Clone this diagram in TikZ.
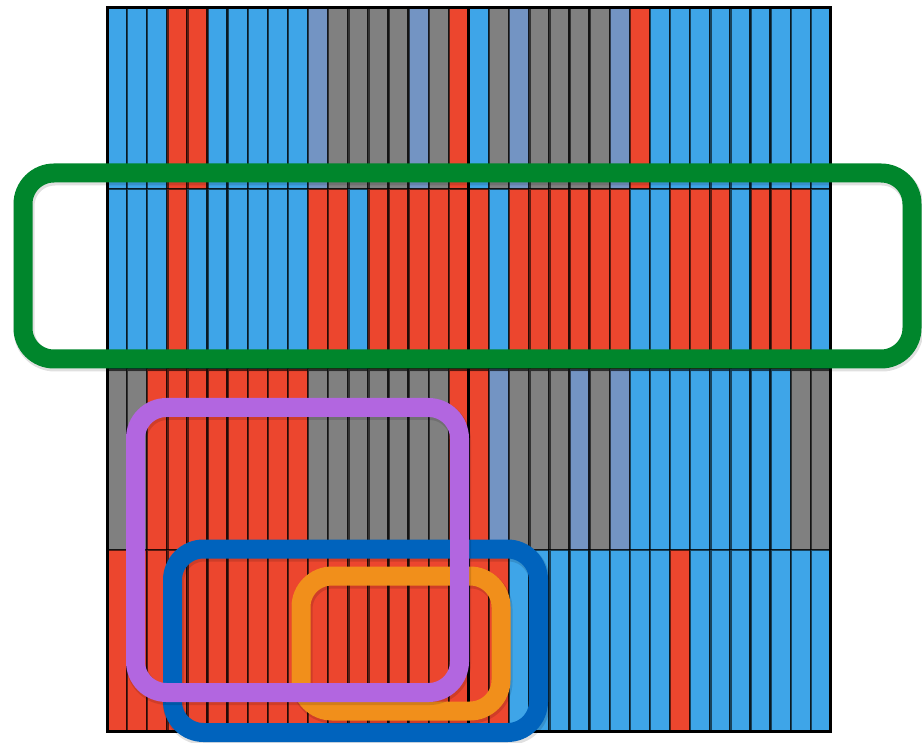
\documentclass[tikz,border=0pt]{standalone}
\definecolor{colB}{RGB}{62,165,232}
\definecolor{colR}{RGB}{236,70,46}
\definecolor{colG}{RGB}{128,128,128}
\definecolor{colS}{RGB}{115,148,195}
\definecolor{boxgreen}{RGB}{0,134,44}
\definecolor{boxpurple}{RGB}{178,102,224}
\definecolor{boxblue}{RGB}{0,99,189}
\definecolor{boxorange}{RGB}{241,143,27}
\tikzset{
  cell/.style={draw=black, draw opacity=0.6, line width=2.4pt},
  frame/.style={draw=black, line width=3pt},
  hilite/.style={line width=19pt, rounded corners=31pt},
  boxshade/.style={line width=21pt, rounded corners=31pt, draw=black, draw opacity=0.12},
}
\begin{document}
\begin{tikzpicture}[x=1pt,y=-1pt]
\useasboundingbox (0,0) rectangle (922,743);
\def\xa{107}
\def\cw{20.11}
\def\ya{8}
\def\rh{180.75}
\foreach \rowcols [count=\r from 0] in {
 {B,B,B,R,R,B,B,B,B,B,S,G,G,G,G,S,G,R,B,G,S,G,G,G,G,S,R,B,B,B,B,B,B,B,B,B},
 {B,B,B,R,B,B,B,B,B,B,R,R,B,R,R,R,R,R,R,B,R,R,R,R,R,R,B,B,R,R,R,B,R,R,R,B},
 {G,G,R,R,R,R,R,R,R,R,G,G,G,G,G,G,G,R,R,S,G,G,G,S,G,S,B,B,B,B,B,B,B,B,G,G},
 {R,R,R,R,R,R,R,R,R,R,R,R,R,R,R,R,R,R,R,R,B,B,B,B,B,B,B,B,R,B,B,B,B,B,B,B}} {
  \foreach \c [count=\i from 0] in \rowcols {
    \path[cell, fill=col\c] ({\xa+\i*\cw},{\ya+\r*\rh}) rectangle ++(\cw,\rh);
  }
}
\coordinate (gridNW) at (\xa,\ya);
\coordinate (gridSE) at ({\xa+36*\cw},{\ya+4*\rh});
\coordinate (midN) at ({\xa+18*\cw},\ya);
\coordinate (midS) at ({\xa+18*\cw},{\ya+4*\rh});
\draw[frame] (gridNW) rectangle (gridSE);
\draw[frame] (midN) -- (midS);
% highlight boxes
\draw[boxshade] (24,175) rectangle (913,361);
\draw[hilite, boxgreen] (23,173) rectangle (912,359);
\draw[boxshade] (173.5,551) rectangle (539.5,734.5);
\draw[hilite, boxblue] (172.5,549) rectangle (538.5,732.5);
\draw[boxshade] (302,578) rectangle (502,713);
\draw[hilite, boxorange] (301,576) rectangle (501,711);
\draw[boxshade] (136.5,409.5) rectangle (460.5,694.5);
\draw[hilite, boxpurple] (135.5,407.5) rectangle (459.5,692.5);
\end{tikzpicture}
\end{document}
